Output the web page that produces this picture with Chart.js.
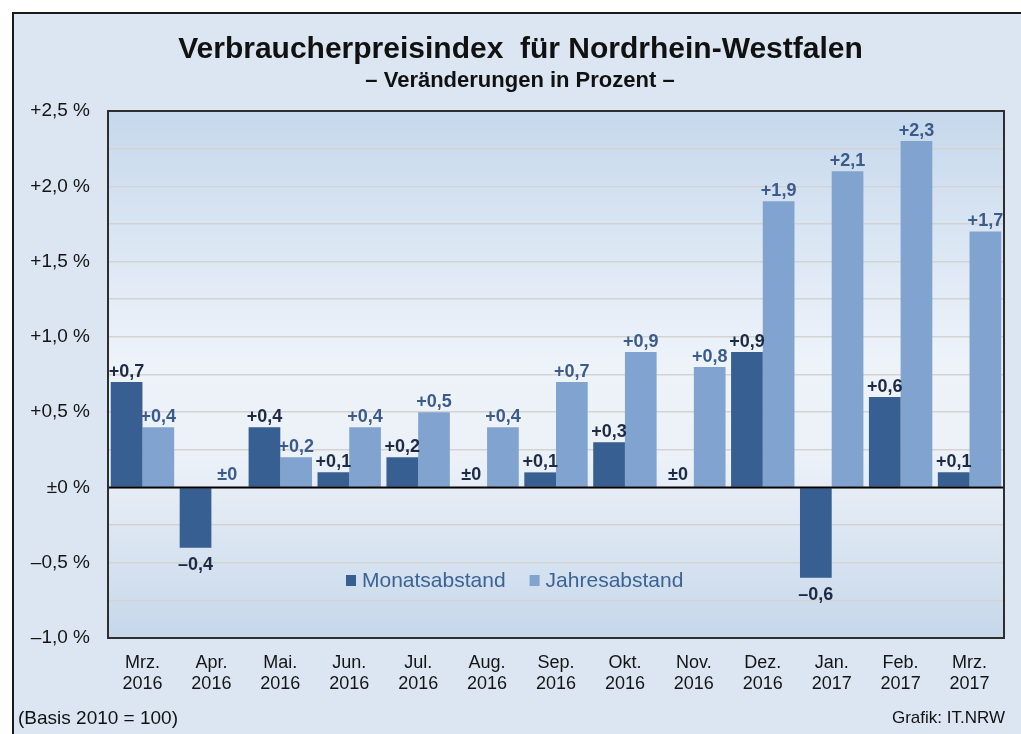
<!DOCTYPE html>
<html>
<head>
<meta charset="utf-8">
<script src="https://cdn.jsdelivr.net/npm/chart.js@4.4.1/dist/chart.umd.min.js"></script>
<style>
  html, body { margin:0; padding:0; background:#ffffff; width:1021px; height:734px; overflow:hidden; }
  #frame { position:absolute; left:12px; top:12px; width:1100px; height:800px; background:#dce6f2; border-left:2px solid #1a1a1a; border-top:2px solid #1a1a1a; }
  #c { position:absolute; left:0; top:0; }
  .txt { position:absolute; font-family:"Liberation Sans", Arial, sans-serif; color:#111; white-space:nowrap; }
  #title { left:0; width:1041px; text-align:center; top:33px; font-size:30px; line-height:30px; font-weight:bold; }
  #sub { left:0; width:1040px; text-align:center; top:69px; font-size:22px; line-height:22px; font-weight:bold; }
  #foot1 { left:18px; top:708px; font-size:19px; line-height:19px; }
  #foot2 { right:16px; top:709px; font-size:17px; line-height:17px; }
</style>
</head>
<body>
<div id="frame"></div>
<canvas id="c" width="1021" height="734"></canvas>
<div class="txt" id="title">Verbraucherpreisindex&nbsp; für Nordrhein-Westfalen</div>
<div class="txt" id="sub">– Veränderungen in Prozent –</div>
<div class="txt" id="foot1">(Basis 2010 = 100)</div>
<div class="txt" id="foot2">Grafik: IT.NRW</div>
<script>
const categories = [
  ["Mrz.","2016"],["Apr.","2016"],["Mai.","2016"],["Jun.","2016"],["Jul.","2016"],
  ["Aug.","2016"],["Sep.","2016"],["Okt.","2016"],["Nov.","2016"],["Dez.","2016"],
  ["Jan.","2017"],["Feb.","2017"],["Mrz.","2017"]
];
const monatsabstand = [0.7, -0.4, 0.4, 0.1, 0.2, 0, 0.1, 0.3, 0, 0.9, -0.6, 0.6, 0.1];
const jahresabstand = [0.4, 0, 0.2, 0.4, 0.5, 0.4, 0.7, 0.9, 0.8, 1.9, 2.1, 2.3, 1.7];
const seriesNames = ["Monatsabstand", "Jahresabstand"];
const yMin = -1.0, yMax = 2.5, yStep = 0.25, yLabelStep = 0.5;

const FONT = '"Liberation Sans", Arial, sans-serif';
const darkBar = '#375f92';
const lightBar = '#80a4cf';
const labelColors = ['#1c2a45', '#3a5b8b'];

function fmtVal(v) {
  const a = Math.abs(v).toFixed(1).replace('.', ',');
  if (Math.abs(v) < 1e-9) return '±0';
  return (v > 0 ? '+' : '–') + a;
}
function fmtTick(v) {
  if (Math.abs(v) < 1e-9) return '±0 %';
  const a = Math.abs(v).toFixed(1).replace('.', ',');
  return (v > 0 ? '+' : '–') + a + ' %';
}

const bgPlugin = {
  id: 'bg',
  beforeDraw(chart) {
    const {ctx, chartArea: a} = chart;
    const g = ctx.createLinearGradient(0, a.top, 0, a.bottom);
    g.addColorStop(0, '#c6d8ec');
    g.addColorStop(0.48, '#eef3fa');
    g.addColorStop(0.66, '#ecf1f8');
    g.addColorStop(1, '#c6d7ea');
    ctx.save();
    ctx.fillStyle = g;
    ctx.fillRect(a.left, a.top, a.right - a.left, a.bottom - a.top);
    ctx.restore();
  },
  afterDatasetsDraw(chart) {
    const {ctx, chartArea: a, scales} = chart;
    const y0 = scales.y.getPixelForValue(0);
    ctx.save();
    ctx.strokeStyle = '#000';
    ctx.lineWidth = 2;
    ctx.beginPath();
    ctx.moveTo(a.left, y0);
    ctx.lineTo(a.right, y0);
    ctx.stroke();
    ctx.strokeStyle = '#2e2e2e';
    ctx.lineWidth = 2;
    ctx.strokeRect(a.left, a.top, a.right - a.left, a.bottom - a.top);
    ctx.font = 'bold 18px ' + FONT;
    ctx.textAlign = 'center';
    chart.data.datasets.forEach((ds, di) => {
      const meta = chart.getDatasetMeta(di);
      ctx.fillStyle = labelColors[di];
      meta.data.forEach((el, i) => {
        const v = ds.data[i];
        const t = fmtVal(v);
        if (v > 0) {
          ctx.textBaseline = 'alphabetic';
          ctx.fillText(t, el.x, el.y - 5);
        } else if (v < 0) {
          ctx.textBaseline = 'top';
          ctx.fillText(t, el.x, el.y + 8);
        } else {
          ctx.textBaseline = 'alphabetic';
          ctx.fillText(t, el.x, y0 - 7);
        }
      });
    });
    const ly = 580;
    let lx = 346;
    ctx.font = '21px ' + FONT;
    ctx.textBaseline = 'middle';
    ctx.textAlign = 'left';
    chart.data.datasets.forEach((ds, di) => {
      ctx.fillStyle = ds.backgroundColor;
      ctx.fillRect(lx, ly - 5, 10, 11);
      lx += 16;
      ctx.fillStyle = '#3d6394';
      ctx.fillText(ds.label, lx, ly + 1);
      lx += ctx.measureText(ds.label).width + 24;
    });
    ctx.restore();
  }
};

new Chart(document.getElementById('c'), {
  type: 'bar',
  data: {
    labels: categories,
    datasets: [
      { label: seriesNames[0], data: monatsabstand, backgroundColor: darkBar, borderWidth: 0 },
      { label: seriesNames[1], data: jahresabstand, backgroundColor: lightBar, borderWidth: 0 }
    ]
  },
  options: {
    responsive: false,
    animation: false,
    devicePixelRatio: 1,
    layout: { padding: { left: 0, top: 111, right: 17, bottom: 0 } },
    datasets: { bar: { categoryPercentage: 0.92, barPercentage: 1.0 } },
    plugins: { legend: { display: false }, tooltip: { enabled: false }, title: { display: false } },
    scales: {
      x: {
        afterFit(s) { s.height = 96; },
        grid: { display: false, drawTicks: false },
        border: { display: false },
        ticks: { color: '#141414', font: { family: FONT, size: 18 }, padding: 14, maxRotation: 0, autoSkip: false }
      },
      y: {
        min: yMin, max: yMax,
        afterFit(s) { s.width = 108; },
        grid: { color: '#d3d3d3', lineWidth: 1.5, drawTicks: false },
        border: { display: false },
        ticks: {
          stepSize: yStep, autoSkip: false, padding: 18,
          color: '#141414', font: { family: FONT, size: 19 },
          callback(v) {
            const r = v / yLabelStep;
            return Math.abs(r - Math.round(r)) < 1e-6 ? fmtTick(v) : '';
          }
        }
      }
    }
  },
  plugins: [bgPlugin]
});
</script>
</body>
</html>
